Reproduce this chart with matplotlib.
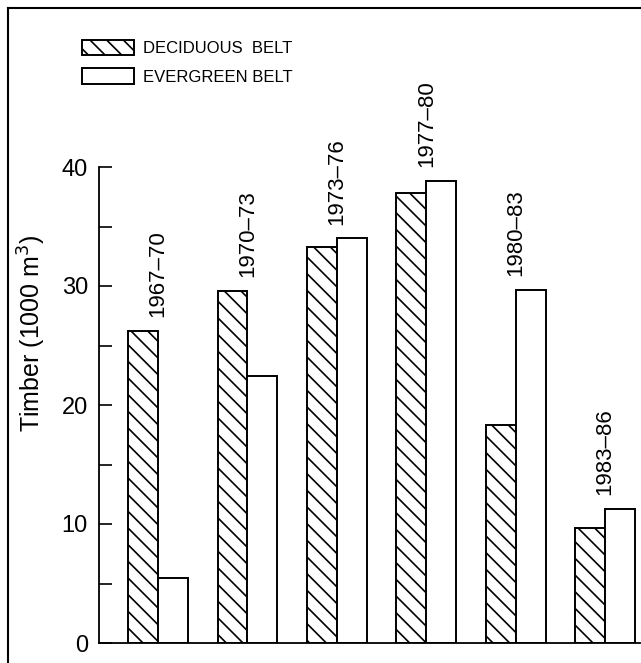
import matplotlib.pyplot as plt
import numpy as np
from matplotlib.lines import Line2D

plt.rcParams['font.family'] = ['Liberation Sans', 'DejaVu Sans']
plt.rcParams['hatch.linewidth'] = 1.2

periods = ['1967\u201370', '1970\u201373', '1973\u201376', '1977\u201380', '1980\u201383', '1983\u201386']
deciduous = [26.2, 29.6, 33.3, 37.8, 18.3, 9.7]
evergreen = [5.5, 22.4, 34.0, 38.8, 29.7, 11.3]
series_names = ['DECIDUOUS  BELT', 'EVERGREEN BELT']

W, H = 641, 663
fig = plt.figure(figsize=(W / 100, H / 100), dpi=100)
ax = fig.add_axes([99 / W, 20 / H, 541 / W, 476 / H])

x = np.arange(len(periods))
bw = 1 / 3
ax.bar(x - bw / 2, deciduous, bw, color='white', edgecolor='black',
       linewidth=1.4, hatch='\\\\', label=series_names[0])
ax.bar(x + bw / 2, evergreen, bw, color='white', edgecolor='black',
       linewidth=1.4, label=series_names[1])

# period labels above each group
for xi, d, e, name in zip(x, deciduous, evergreen, periods):
    ax.annotate(name, (xi, max(d, e)), xytext=(0, 10), textcoords='offset points',
                rotation=90, ha='center', va='bottom', fontsize=16, annotation_clip=False)

ax.set_xlim(-0.66, 5.39)
ax.set_ylim(0, 40)
ax.set_xticks([])
ax.set_yticks([0, 10, 20, 30, 40])
ax.set_yticks([5, 15, 25, 35], minor=True)
ax.tick_params(axis='y', which='both', direction='in', length=9, width=1.2, labelsize=17, pad=8)
for s in ['top', 'right']:
    ax.spines[s].set_visible(False)
for s in ['left', 'bottom']:
    ax.spines[s].set_linewidth(1.3)

ax.set_ylabel('Timber (1000 m$^3$)', fontsize=18)
ax.yaxis.set_label_coords(-0.095, 0.65)

ax.legend(loc='upper left', bbox_to_anchor=(82 / W, 1 - 40 / H),
          bbox_transform=fig.transFigure, frameon=False, fontsize=12,
          handlelength=3.1, handleheight=1.05, handletextpad=0.55,
          labelspacing=0.72, borderpad=0, borderaxespad=0)

# page frame
fig.add_artist(Line2D([8 / W, 8 / W], [0, 1 - 8 / H], transform=fig.transFigure, color='black', lw=1.5))
fig.add_artist(Line2D([8 / W, 1], [1 - 8 / H, 1 - 8 / H], transform=fig.transFigure, color='black', lw=1.5))

fig.savefig('out.png', dpi=100)
